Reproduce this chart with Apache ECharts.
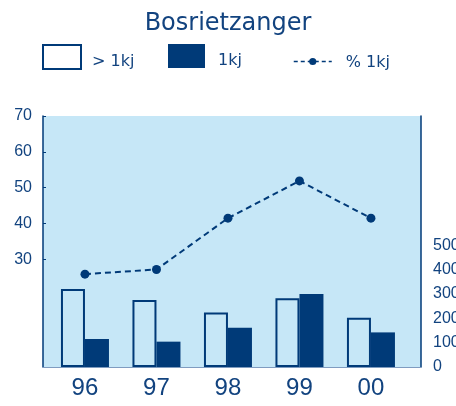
<!DOCTYPE html>
<html>
<head>
<meta charset="utf-8">
<script src="https://cdn.jsdelivr.net/npm/echarts@6/dist/echarts.min.js"></script>
<style>
  html, body { margin: 0; padding: 0; background: #fff; }
  #chart { width: 456px; height: 406px; }
</style>
</head>
<body>
<div id="chart"></div>
<script>
// jaren (categorieen)
const years = ['96', '97', '98', '99', '00'];
// aantallen ouder dan 1kj (rechter as)
const adults = [320, 275, 224, 282, 202];
// aantallen 1kj (rechter as)
const juveniles = [115, 104, 161, 300, 142];
// percentage 1kj (linker as)
const pctJuv = [25.9, 27.2, 41.5, 51.9, 41.5];
// labels op de assen
const leftTicks = [30, 40, 50, 60, 70];
const rightTicks = [0, 100, 200, 300, 400, 500];

const blue = '#003a78';
const textBlue = '#12437f';
const bg = '#c6e7f7';

const pos = years.map((y, i) => i + 1);

// legendatekst iets lager dan het midden van het icoon
const legendText = (left) => ({
  fontFamily: 'DejaVu Sans', fontSize: 16, color: textBlue,
  rich: { t: { fontFamily: 'DejaVu Sans', fontSize: 16, color: textBlue, padding: [10, 0, 0, left] } }
});

let chartDom = document.getElementById('chart');
let myChart = echarts.init(chartDom);
let option = {
  animation: false,
  title: {
    text: 'Bosrietzanger',
    left: 'center',
    top: 7,
    textStyle: { fontFamily: 'DejaVu Sans', fontSize: 24, fontWeight: 'normal', color: textBlue }
  },
  legend: [
    {
      data: ['> 1kj'], left: 42, top: 44, padding: 0, itemWidth: 38, itemHeight: 24, icon: 'rect',
      formatter: n => '{t|' + n + '}',
      textStyle: legendText(6)
    },
    {
      data: ['1kj'], left: 168, top: 44, padding: 0, itemWidth: 37, itemHeight: 24, icon: 'rect',
      formatter: n => '{t|' + n + '}',
      textStyle: legendText(8)
    },
    {
      data: [{ name: '% 1kj', lineStyle: { width: 1.5, type: [4, 3] } }],
      left: 293, top: 55, padding: 0, itemWidth: 38, itemHeight: 9,
      formatter: n => '{t|' + n + '}',
      textStyle: {
        fontFamily: 'DejaVu Sans', fontSize: 16, color: textBlue,
        rich: { t: { fontFamily: 'DejaVu Sans', fontSize: 16, color: textBlue, padding: [3, 0, 0, 9] } }
      }
    }
  ],
  grid: {
    left: 43, right: 35, top: 116, bottom: 39,
    outerBoundsMode: 'none',
    show: true, backgroundColor: bg, borderWidth: 0
  },
  xAxis: {
    type: 'value',
    min: 0.413,
    max: 5.7,
    splitLine: { show: false },
    axisTick: { show: false },
    axisLine: { show: true, lineStyle: { color: '#7f9cc0', width: 1 } },
    axisLabel: {
      customValues: pos,
      formatter: v => years[Math.round(v) - 1],
      fontFamily: 'Liberation Sans', fontSize: 24, color: textBlue, margin: 9
    }
  },
  yAxis: [
    {
      type: 'value', min: 0, max: 70, interval: 10, position: 'left',
      splitLine: { show: false },
      axisLine: { show: true, lineStyle: { color: blue, width: 1.5 } },
      axisTick: { show: true, inside: true, length: 3, customValues: leftTicks, lineStyle: { color: blue } },
      axisLabel: {
        customValues: leftTicks,
        fontFamily: 'Liberation Sans', fontSize: 16, color: textBlue, margin: 11
      }
    },
    {
      type: 'value', min: 0, max: 1030, position: 'right',
      splitLine: { show: false },
      axisLine: { show: true, lineStyle: { color: blue, width: 1.5 } },
      axisTick: { show: false },
      axisLabel: {
        customValues: rightTicks,
        fontFamily: 'Liberation Sans', fontSize: 16, color: textBlue, margin: 12
      }
    }
  ],
  series: [
    {
      name: '> 1kj', type: 'bar', yAxisIndex: 1,
      barWidth: 24, barGap: '0%',
      itemStyle: { color: 'rgba(255,255,255,0)', borderColor: blue, borderWidth: 2 },
      data: adults.map((v, i) => [pos[i], v])
    },
    {
      name: '1kj', type: 'bar', yAxisIndex: 1,
      barWidth: 24, barGap: '0%',
      itemStyle: { color: blue },
      data: juveniles.map((v, i) => [pos[i], v])
    },
    {
      name: '% 1kj', type: 'line', yAxisIndex: 0,
      symbol: 'circle', symbolSize: 9,
      itemStyle: { color: blue },
      lineStyle: { color: blue, width: 2, type: [6, 4] },
      data: pctJuv.map((v, i) => [pos[i], v])
    }
  ]
};
option && myChart.setOption(option);
</script>
</body>
</html>
